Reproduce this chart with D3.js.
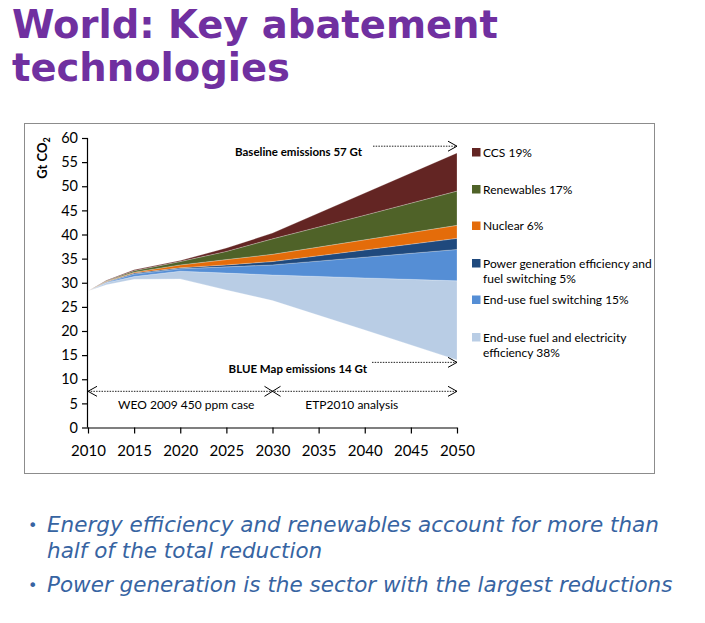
<!DOCTYPE html>
<html>
<head>
<meta charset="utf-8">
<script src="https://cdn.jsdelivr.net/npm/d3@7"></script>
<style>
  body { margin: 0; background: #fff; }
  svg text { font-family: Lato, "Liberation Sans", sans-serif; }
</style>
</head>
<body>
<svg id="chart"></svg>
<script>
const width = 705;
const height = 623;

// data (Gt CO2)
const years = [2010, 2012, 2015, 2020, 2025, 2030, 2040, 2050];
const blueMap = [28.3, 29.6, 30.7, 30.8, 28.5, 26.3, 20.2, 14.0];
const efficiency = [0, 0.4, 0.6, 1.6, 3.5, 5.3, 10.8, 16.4];
const fuelSwitching = [0, 0.1, 0.5, 0.5, 1.3, 2.1, 4.3, 6.5];
const powerGen = [0, 0.1, 0.2, 0.2, 0.4, 0.7, 1.5, 2.3];
const nuclear = [0, 0.1, 0.2, 0.6, 1.1, 1.5, 2.1, 2.7];
const renewables = [0, 0.1, 0.3, 0.7, 1.7, 3.2, 5.1, 7.1];
const ccs = [0, 0.1, 0.2, 0.2, 0.7, 1.2, 4.6, 7.9];

const yTicks = [0, 5, 10, 15, 20, 25, 30, 35, 40, 45, 50, 55, 60];
const xTicks = [2010, 2015, 2020, 2025, 2030, 2035, 2040, 2045, 2050];

const layers = [
  { key: "ccs", values: ccs, color: "#632523", label: ["CCS 19%"] },
  { key: "renewables", values: renewables, color: "#4f6228", label: ["Renewables 17%"] },
  { key: "nuclear", values: nuclear, color: "#e46c0a", label: ["Nuclear 6%"] },
  { key: "powerGen", values: powerGen, color: "#1f497d", label: ["Power generation efficiency and", "fuel switching 5%"] },
  { key: "fuelSwitching", values: fuelSwitching, color: "#558ed5", label: ["End-use fuel switching 15%"] },
  { key: "efficiency", values: efficiency, color: "#b9cde5", label: ["End-use fuel and electricity", "efficiency 38%"] }
];

const table = years.map((yr, i) => {
  const row = { year: yr, base: blueMap[i] };
  layers.forEach(l => row[l.key] = l.values[i]);
  return row;
});

const svg = d3.select("#chart")
    .attr("width", width)
    .attr("height", height);

// title
const title = svg.append("g")
    .attr("fill", "#7030a0")
    .style("font-weight", "bold")
    .style("font-size", "38.5px");
title.append("text").attr("x", 12).attr("y", 38).style("font-family", "'DejaVu Sans'").text("World: Key abatement");
title.append("text").attr("x", 12).attr("y", 81).style("font-family", "'DejaVu Sans'").text("technologies");

// chart frame
svg.append("rect")
    .attr("x", 24.5).attr("y", 123.5)
    .attr("width", 630).attr("height", 350)
    .attr("fill", "none")
    .attr("stroke", "#8c8c8c");

const xScale = d3.scaleLinear().domain([2010, 2050]).range([88, 457]);
const yScale = d3.scaleLinear().domain([0, 60]).range([427.5, 138]);

const stackKeys = ["base"].concat(layers.map(l => l.key).reverse());
const series = d3.stack().keys(stackKeys)(table);

const area = d3.area()
    .x(d => xScale(d.data.year))
    .y0(d => yScale(d[0]))
    .y1(d => yScale(d[1]));

const colorOf = {};
layers.forEach(l => colorOf[l.key] = l.color);

svg.append("g")
  .selectAll("path")
  .data(series.filter(s => s.key !== "base"))
  .enter()
  .append("path")
    .attr("d", area)
    .attr("fill", d => colorOf[d.key])
    .attr("stroke", "#ffffff")
    .attr("stroke-width", 0.4)
    .attr("stroke-opacity", 0.6);

// axes
const yAxis = d3.axisLeft(yScale).tickValues(yTicks).tickSize(6).tickPadding(4);
const xAxis = d3.axisBottom(xScale).tickValues(xTicks).tickFormat(d3.format("d")).tickSize(6).tickPadding(12);

const gy = svg.append("g")
    .attr("transform", "translate(88,0)")
    .call(yAxis);
const gx = svg.append("g")
    .attr("transform", "translate(0,427.5)")
    .call(xAxis);

[gy, gx].forEach(g => {
  g.select(".domain").attr("stroke", "#000").attr("stroke-width", 1.2);
  g.selectAll(".tick line").attr("stroke", "#000").attr("stroke-width", 1.2);
  g.selectAll(".tick text")
      .attr("fill", "#000")
      .style("font-family", "Lato, sans-serif")
      .style("font-size", "14.5px");
});
gx.selectAll(".tick text").style("font-size", "15px");
gy.select(".domain").attr("d", "M-0.5,138V427.5");
gx.select(".domain").attr("d", "M88,0.5H457");

// y axis title
const yTitle = svg.append("text")
    .attr("transform", "translate(47,158) rotate(-90)")
    .attr("text-anchor", "middle")
    .style("font-size", "13px")
    .style("font-weight", "bold")
    .attr("fill", "#000");
yTitle.append("tspan").text("Gt CO");
yTitle.append("tspan").attr("dy", 3).style("font-size", "9px").text("2");

// annotations
const dotted = "1.5,1.2";
function arrowHead(x, y, dir) {
  svg.append("path")
      .attr("d", `M${x - dir * 9},${y - 5}L${x},${y}L${x - dir * 9},${y + 5}`)
      .attr("fill", "none")
      .attr("stroke", "#000")
      .attr("stroke-width", 1);
}
function dottedLine(x1, x2, y) {
  svg.append("line")
      .attr("x1", x1).attr("x2", x2)
      .attr("y1", y).attr("y2", y)
      .attr("stroke", "#222")
      .attr("stroke-width", 1)
      .attr("stroke-dasharray", dotted);
}

svg.append("text")
    .attr("x", 362).attr("y", 155.5)
    .attr("text-anchor", "end")
    .style("font-size", "11.5px")
    .style("font-weight", "bold")
    .attr("fill", "#000")
    .text("Baseline emissions 57 Gt");
dottedLine(373, xScale(2050), yScale(58.3));
arrowHead(xScale(2050), yScale(58.3), 1);

svg.append("text")
    .attr("x", 367).attr("y", 373)
    .attr("text-anchor", "end")
    .style("font-size", "11.5px")
    .style("font-weight", "bold")
    .attr("fill", "#000")
    .text("BLUE Map emissions 14 Gt");
dottedLine(372, xScale(2050), yScale(13.5));
arrowHead(xScale(2050), yScale(13.5), 1);

const yPeriod = yScale(7.5);
dottedLine(xScale(2010), xScale(2050), yPeriod);
arrowHead(xScale(2010), yPeriod, -1);
arrowHead(xScale(2050), yPeriod, 1);
svg.append("path")
    .attr("d", `M${xScale(2030) - 8},${yPeriod - 5}L${xScale(2030) + 8},${yPeriod + 5}M${xScale(2030) - 8},${yPeriod + 5}L${xScale(2030) + 8},${yPeriod - 5}`)
    .attr("stroke", "#000")
    .attr("fill", "none");

svg.append("text")
    .attr("x", (xScale(2010) + xScale(2030)) / 2 + 6).attr("y", 409)
    .attr("text-anchor", "middle")
    .style("font-size", "12px")
    .attr("fill", "#000")
    .text("WEO 2009 450 ppm case");
svg.append("text")
    .attr("x", (xScale(2030) + xScale(2050)) / 2 - 13).attr("y", 409)
    .attr("text-anchor", "middle")
    .style("font-size", "12px")
    .attr("fill", "#000")
    .text("ETP2010 analysis");

// legend
const legendY = [152.5, 189.5, 226, 263.5, 300, 337.5];
const legend = svg.append("g");
layers.forEach((l, i) => {
  legend.append("rect")
      .attr("x", 472).attr("y", legendY[i] - 4.5)
      .attr("width", 8.5).attr("height", 8.5)
      .attr("fill", l.color);
  l.label.forEach((line, j) => {
    legend.append("text")
        .attr("x", 483).attr("y", legendY[i] + 4 + j * 15.5)
        .style("font-size", "12px")
        .attr("fill", "#000")
        .text(line);
  });
});

// bullets
const bullets = svg.append("g")
    .attr("fill", "#3764a2")
    .style("font-size", "21.5px");
const bulletLines = [
  { x: 47, y: 532, text: "Energy efficiency and renewables account for more than", dot: true },
  { x: 47, y: 558, text: "half of the total reduction", dot: false },
  { x: 47, y: 592, text: "Power generation is the sector with the largest reductions", dot: true }
];
bulletLines.forEach(b => {
  if (b.dot) {
    bullets.append("text").attr("x", 28).attr("y", b.y - 1)
        .style("font-family", "'DejaVu Sans'").style("font-size", "16px").text("•");
  }
  bullets.append("text").attr("x", b.x).attr("y", b.y)
      .style("font-family", "'DejaVu Sans'")
      .style("font-style", "italic")
      .text(b.text);
});
</script>
</body>
</html>
